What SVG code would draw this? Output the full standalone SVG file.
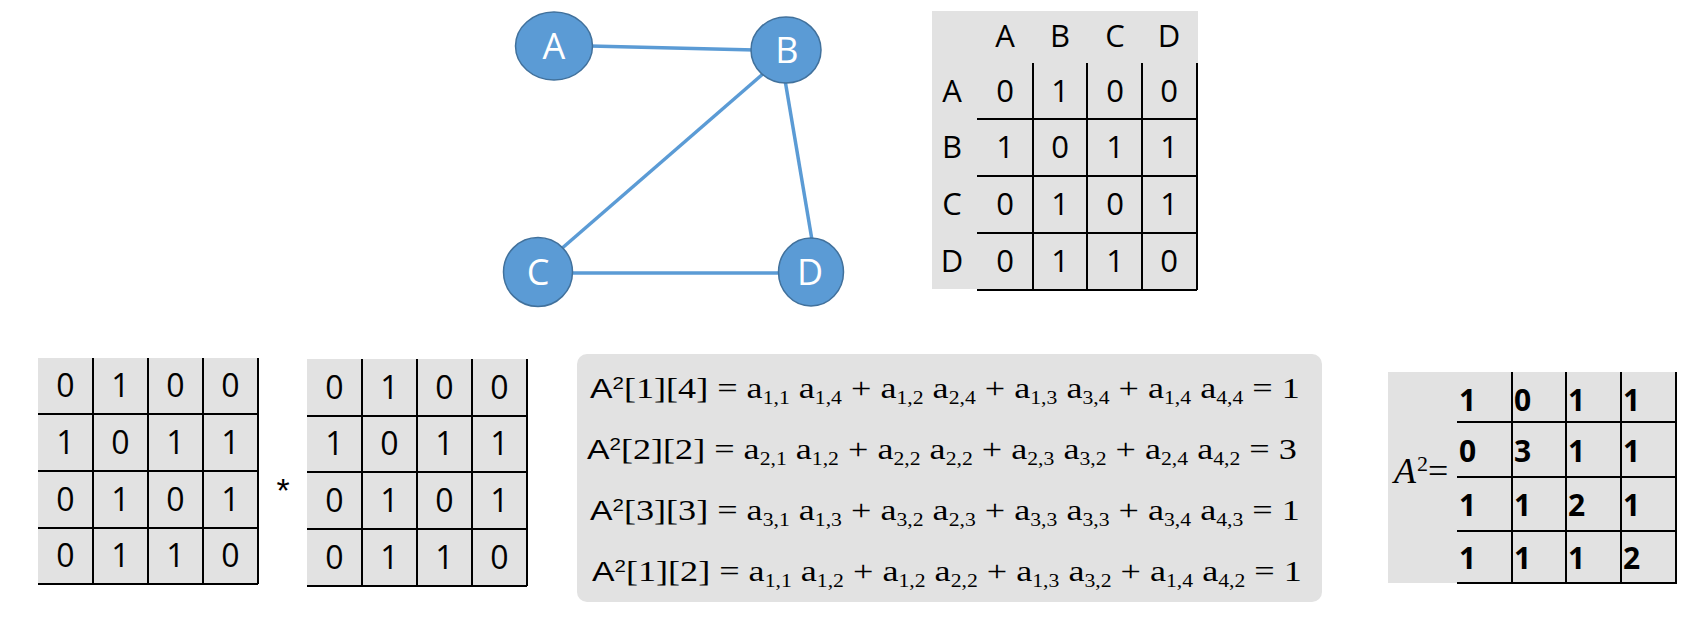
<svg xmlns="http://www.w3.org/2000/svg" width="1700" height="622" viewBox="0 0 1700 622">
<style>
.edge{stroke:#5B9BD5;stroke-width:3.5;fill:none}
.node{fill:#5B9BD5;stroke:#41719C;stroke-width:1.5}
.nl{font-family:"Open Sans","Liberation Sans",sans-serif;font-size:36px;fill:#fff;text-anchor:middle}
.bg{fill:#E2E2E2}
.gl{stroke:#000;stroke-width:2;fill:none}
.t{font-family:"Open Sans","Liberation Sans",sans-serif;font-size:31px;fill:#000;text-anchor:middle}
.m{font-family:"Open Sans","Liberation Sans",sans-serif;font-size:32px;fill:#000;text-anchor:middle}
.r{font-family:"Open Sans","Liberation Sans",sans-serif;font-size:30px;font-weight:bold;fill:#000}
.fm{font-family:"Liberation Serif","Times New Roman",serif;font-size:30px;fill:#000}
.fa{font-family:"Liberation Sans",Arial,sans-serif;font-size:28px}
.fs{font-family:"Liberation Sans",Arial,sans-serif;font-size:17px}
.sb{font-size:18px}
</style>

<g id="connectors">
<line class="edge" x1="590" y1="46" x2="755" y2="50"/>
<line class="edge" x1="764" y1="73" x2="560" y2="250"/>
<line class="edge" x1="785" y1="80" x2="812" y2="240"/>
<line class="edge" x1="570" y1="273" x2="780" y2="273"/>
</g>

<g id="node-A"><ellipse class="node" cx="554" cy="46" rx="38.5" ry="34"/><text class="nl" x="554" y="59">A</text></g>
<g id="node-B"><ellipse class="node" cx="786" cy="50" rx="35" ry="33"/><text class="nl" x="787" y="63">B</text></g>
<g id="node-C"><ellipse class="node" cx="538" cy="272" rx="34.5" ry="34.5"/><text class="nl" x="538" y="285">C</text></g>
<g id="node-D"><ellipse class="node" cx="811" cy="272" rx="32.5" ry="34"/><text class="nl" x="810" y="285">D</text></g>

<g id="adjacency-table">
<rect class="bg" x="932" y="11" width="266" height="278"/>
<path class="gl" d="M1033 63V290M1087 63V290M1142 63V290M1197 63V290M977 119H1197M977 176H1197M977 233H1197M977 290H1197"/>
<text class="t" x="1005" y="47">A</text><text class="t" x="1060" y="47">B</text><text class="t" x="1115" y="47">C</text><text class="t" x="1169" y="47">D</text>
<text class="t" x="952" y="102">A</text><text class="t" x="952" y="158">B</text><text class="t" x="952" y="215">C</text><text class="t" x="952" y="272">D</text>
<text class="t" x="1005" y="102">0</text><text class="t" x="1060" y="102">1</text><text class="t" x="1115" y="102">0</text><text class="t" x="1169" y="102">0</text>
<text class="t" x="1005" y="158">1</text><text class="t" x="1060" y="158">0</text><text class="t" x="1115" y="158">1</text><text class="t" x="1169" y="158">1</text>
<text class="t" x="1005" y="215">0</text><text class="t" x="1060" y="215">1</text><text class="t" x="1115" y="215">0</text><text class="t" x="1169" y="215">1</text>
<text class="t" x="1005" y="272">0</text><text class="t" x="1060" y="272">1</text><text class="t" x="1115" y="272">1</text><text class="t" x="1169" y="272">0</text>
</g>

<g id="matrix-1">
<rect class="bg" x="38" y="358" width="220" height="226"/>
<path class="gl" d="M93 358V584M148 358V584M203 358V584M258 358V584M38 414H258M38 471H258M38 528H258M38 584H258"/>
<text class="m" x="65.5" y="397">0</text><text class="m" x="120.5" y="397">1</text><text class="m" x="175.5" y="397">0</text><text class="m" x="230.5" y="397">0</text>
<text class="m" x="65.5" y="454">1</text><text class="m" x="120.5" y="454">0</text><text class="m" x="175.5" y="454">1</text><text class="m" x="230.5" y="454">1</text>
<text class="m" x="65.5" y="511">0</text><text class="m" x="120.5" y="511">1</text><text class="m" x="175.5" y="511">0</text><text class="m" x="230.5" y="511">1</text>
<text class="m" x="65.5" y="567">0</text><text class="m" x="120.5" y="567">1</text><text class="m" x="175.5" y="567">1</text><text class="m" x="230.5" y="567">0</text>
</g>

<g id="times-sign"><text x="283" y="502" font-family="Liberation Sans,Arial,sans-serif" font-size="34" text-anchor="middle" fill="#000">*</text></g>

<g id="matrix-2">
<rect class="bg" x="307" y="359" width="220" height="227"/>
<path class="gl" d="M362 359V586M417 359V586M472 359V586M527 359V586M307 416H527M307 472H527M307 529H527M307 586H527"/>
<text class="m" x="334.5" y="399">0</text><text class="m" x="389.5" y="399">1</text><text class="m" x="444.5" y="399">0</text><text class="m" x="499.5" y="399">0</text>
<text class="m" x="334.5" y="455">1</text><text class="m" x="389.5" y="455">0</text><text class="m" x="444.5" y="455">1</text><text class="m" x="499.5" y="455">1</text>
<text class="m" x="334.5" y="512">0</text><text class="m" x="389.5" y="512">1</text><text class="m" x="444.5" y="512">0</text><text class="m" x="499.5" y="512">1</text>
<text class="m" x="334.5" y="569">0</text><text class="m" x="389.5" y="569">1</text><text class="m" x="444.5" y="569">1</text><text class="m" x="499.5" y="569">0</text>
</g>

<g id="formulas">
<rect class="bg" x="577" y="354" width="745" height="248" rx="10"/>
<g transform="translate(590 398) scale(1.205 1)"><text class="fm" x="0" y="0"><tspan class="fa">A</tspan><tspan class="fs" dy="-9">2</tspan><tspan dy="9">[1][4] = a</tspan><tspan class="sb" dy="6">1,1</tspan><tspan dy="-6"> a</tspan><tspan class="sb" dy="6">1,4</tspan><tspan dy="-6"> + a</tspan><tspan class="sb" dy="6">1,2</tspan><tspan dy="-6"> a</tspan><tspan class="sb" dy="6">2,4</tspan><tspan dy="-6"> + a</tspan><tspan class="sb" dy="6">1,3</tspan><tspan dy="-6"> a</tspan><tspan class="sb" dy="6">3,4</tspan><tspan dy="-6"> + a</tspan><tspan class="sb" dy="6">1,4</tspan><tspan dy="-6"> a</tspan><tspan class="sb" dy="6">4,4</tspan><tspan dy="-6"> = 1</tspan></text></g>
<g transform="translate(587 459) scale(1.205 1)"><text class="fm" x="0" y="0"><tspan class="fa">A</tspan><tspan class="fs" dy="-9">2</tspan><tspan dy="9">[2][2] = a</tspan><tspan class="sb" dy="6">2,1</tspan><tspan dy="-6"> a</tspan><tspan class="sb" dy="6">1,2</tspan><tspan dy="-6"> + a</tspan><tspan class="sb" dy="6">2,2</tspan><tspan dy="-6"> a</tspan><tspan class="sb" dy="6">2,2</tspan><tspan dy="-6"> + a</tspan><tspan class="sb" dy="6">2,3</tspan><tspan dy="-6"> a</tspan><tspan class="sb" dy="6">3,2</tspan><tspan dy="-6"> + a</tspan><tspan class="sb" dy="6">2,4</tspan><tspan dy="-6"> a</tspan><tspan class="sb" dy="6">4,2</tspan><tspan dy="-6"> = 3</tspan></text></g>
<g transform="translate(590 520) scale(1.205 1)"><text class="fm" x="0" y="0"><tspan class="fa">A</tspan><tspan class="fs" dy="-9">2</tspan><tspan dy="9">[3][3] = a</tspan><tspan class="sb" dy="6">3,1</tspan><tspan dy="-6"> a</tspan><tspan class="sb" dy="6">1,3</tspan><tspan dy="-6"> + a</tspan><tspan class="sb" dy="6">3,2</tspan><tspan dy="-6"> a</tspan><tspan class="sb" dy="6">2,3</tspan><tspan dy="-6"> + a</tspan><tspan class="sb" dy="6">3,3</tspan><tspan dy="-6"> a</tspan><tspan class="sb" dy="6">3,3</tspan><tspan dy="-6"> + a</tspan><tspan class="sb" dy="6">3,4</tspan><tspan dy="-6"> a</tspan><tspan class="sb" dy="6">4,3</tspan><tspan dy="-6"> = 1</tspan></text></g>
<g transform="translate(592 581) scale(1.205 1)"><text class="fm" x="0" y="0"><tspan class="fa">A</tspan><tspan class="fs" dy="-9">2</tspan><tspan dy="9">[1][2] = a</tspan><tspan class="sb" dy="6">1,1</tspan><tspan dy="-6"> a</tspan><tspan class="sb" dy="6">1,2</tspan><tspan dy="-6"> + a</tspan><tspan class="sb" dy="6">1,2</tspan><tspan dy="-6"> a</tspan><tspan class="sb" dy="6">2,2</tspan><tspan dy="-6"> + a</tspan><tspan class="sb" dy="6">1,3</tspan><tspan dy="-6"> a</tspan><tspan class="sb" dy="6">3,2</tspan><tspan dy="-6"> + a</tspan><tspan class="sb" dy="6">1,4</tspan><tspan dy="-6"> a</tspan><tspan class="sb" dy="6">4,2</tspan><tspan dy="-6"> = 1</tspan></text></g>
</g>

<g id="result-matrix">
<rect class="bg" x="1388" y="372" width="289" height="211"/>
<path class="gl" d="M1512 372V584M1566 372V584M1621 372V584M1676 372V584M1457 422H1676M1457 477H1676M1457 531H1676M1457 583H1676"/>
<text class="fm" x="1394" y="483"><tspan font-style="italic" font-size="36">A</tspan><tspan font-size="22" dx="1" dy="-12">2</tspan><tspan font-size="36" dy="12">=</tspan></text>
<text class="r" x="1459" y="411">1</text><text class="r" x="1514" y="411">0</text><text class="r" x="1568" y="411">1</text><text class="r" x="1623" y="411">1</text>
<text class="r" x="1459" y="462">0</text><text class="r" x="1514" y="462">3</text><text class="r" x="1568" y="462">1</text><text class="r" x="1623" y="462">1</text>
<text class="r" x="1459" y="516">1</text><text class="r" x="1514" y="516">1</text><text class="r" x="1568" y="516">2</text><text class="r" x="1623" y="516">1</text>
<text class="r" x="1459" y="569">1</text><text class="r" x="1514" y="569">1</text><text class="r" x="1568" y="569">1</text><text class="r" x="1623" y="569">2</text>
</g>
</svg>
